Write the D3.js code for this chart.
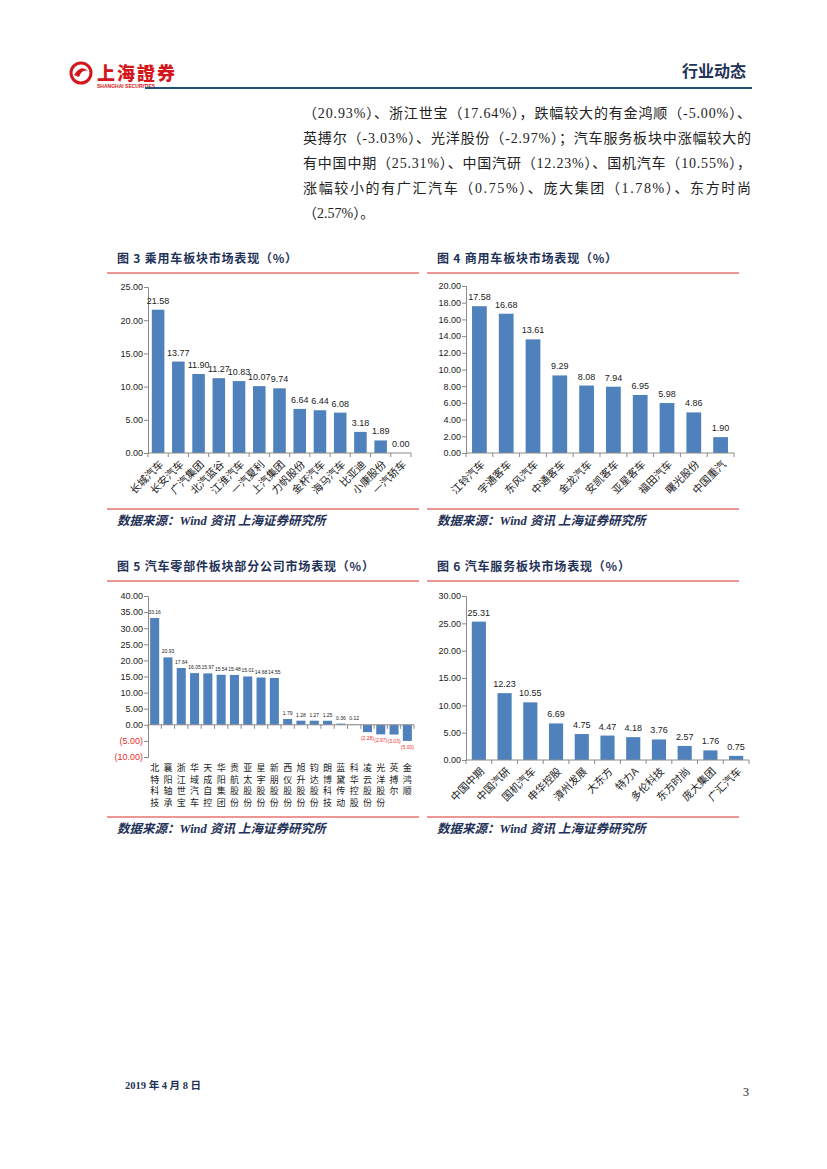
<!DOCTYPE html>
<html>
<head>
<meta charset="utf-8">
<script src="https://cdnjs.cloudflare.com/ajax/libs/d3/7.8.5/d3.min.js"></script>
<style>
  body { margin: 0; background: #fff; }
  svg { display: block; }
</style>
</head>
<body>
<div id="page"></div>
<script>
// ---- data ----
const paragraphLines = [
    "（20.93%）、浙江世宝（17.64%），跌幅较大的有金鸿顺（-5.00%）、",
    "英搏尔（-3.03%）、光洋股份（-2.97%）；汽车服务板块中涨幅较大的",
    "有中国中期（25.31%）、中国汽研（12.23%）、国机汽车（10.55%），",
    "涨幅较小的有广汇汽车（0.75%）、庞大集团（1.78%）、东方时尚",
    "（2.57%）。"
];

const passengerNames = ["长城汽车", "长安汽车", "广汽集团", "北汽蓝谷", "江淮汽车", "一汽夏利", "上汽集团",
    "力帆股份", "金杯汽车", "海马汽车", "比亚迪", "小康股份", "一汽轿车"];
const passengerValues = [21.58, 13.77, 11.90, 11.27, 10.83, 10.07, 9.74, 6.64, 6.44, 6.08, 3.18, 1.89, 0.00];
const passengerTicks = [0, 5, 10, 15, 20, 25];

const commercialNames = ["江铃汽车", "宇通客车", "东风汽车", "中通客车", "金龙汽车", "安凯客车", "亚星客车",
    "福田汽车", "曙光股份", "中国重汽"];
const commercialValues = [17.58, 16.68, 13.61, 9.29, 8.08, 7.94, 6.95, 5.98, 4.86, 1.90];
const commercialTicks = [0, 2, 4, 6, 8, 10, 12, 14, 16, 18, 20];

const partsNames = ["北特科技", "襄阳轴承", "浙江世宝", "华域汽车", "天成自控", "华阳集团", "贵航股份",
    "亚太股份", "星宇股份", "新朋股份", "西仪股份", "旭升股份", "钧达股份", "朗博科技", "蓝黛传动",
    "科华控股", "凌云股份", "光洋股份", "英搏尔", "金鸿顺"];
const partsValues = [33.16, 20.93, 17.64, 16.05, 15.97, 15.54, 15.48, 15.01, 14.68, 14.55,
    1.79, 1.28, 1.27, 1.25, 0.36, 0.12, -2.28, -2.97, -3.03, -5.00];
const partsTicks = [-10, -5, 0, 5, 10, 15, 20, 25, 30, 35, 40];

const serviceNames = ["中国中期", "中国汽研", "国机汽车", "申华控股", "漳州发展", "大东方", "特力A",
    "多伦科技", "东方时尚", "庞大集团", "广汇汽车"];
const serviceValues = [25.31, 12.23, 10.55, 6.69, 4.75, 4.47, 4.18, 3.76, 2.57, 1.76, 0.75];
const serviceTicks = [0, 5, 10, 15, 20, 25, 30];

const titles = ["图 3 乘用车板块市场表现（%）", "图 4 商用车板块市场表现（%）",
    "图 5 汽车零部件板块部分公司市场表现（%）", "图 6 汽车服务板块市场表现（%）"];
const sourceText = "数据来源：Wind 资讯 上海证券研究所";

// ---- page ----
const W = 827, H = 1169;
const navy = "#1f3257";
const red = "#d9302c";
const barColor = "#4f81bd";
const axisColor = "#8a8a8a";
const numFont = "'Liberation Sans Narrow', 'Liberation Sans', Arial, sans-serif";
const cjk = "'Noto Sans CJK SC', sans-serif";

const svg = d3.select("#page").append("svg")
    .attr("width", W)
    .attr("height", H);

// header: logo
const logo = svg.append("g").attr("transform", "translate(70, 61)");
logo.append("circle").attr("cx", 11).attr("cy", 12).attr("r", 10)
    .attr("fill", "none").attr("stroke", "#d4161c").attr("stroke-width", 3);
logo.append("path").attr("d", "M4,14 Q11,3 18,10 Q12,8 9,16 Z").attr("fill", "#d4161c");
logo.append("text").attr("x", 27).attr("y", 19)
    .attr("font-family", cjk).attr("font-weight", "900").attr("font-size", 18)
    .attr("fill", "#d4161c").attr("letter-spacing", 2).text("上海證券");
logo.append("text").attr("x", 27).attr("y", 27)
    .attr("font-family", "'Liberation Sans', Arial").attr("font-weight", "bold").attr("font-size", 5)
    .attr("fill", "#d4161c").text("SHANGHAI SECURITIES");

svg.append("text").attr("x", 746).attr("y", 77).attr("text-anchor", "end")
    .attr("font-family", cjk).attr("font-weight", "bold").attr("font-size", 16)
    .attr("fill", navy).text("行业动态");

svg.append("line").attr("x1", 145).attr("x2", 752).attr("y1", 88).attr("y2", 88)
    .attr("stroke", "#1f4e79").attr("stroke-width", 2);

// paragraph
paragraphLines.forEach((line, i) => {
    const t = svg.append("text")
        .attr("x", 303).attr("y", 118 + i * 25)
        .attr("font-family", "'Liberation Serif', 'Noto Sans CJK SC', serif")
        .attr("font-size", 14).attr("fill", "#222")
        .text(line);
    if (i < paragraphLines.length - 1) {
        t.attr("textLength", 448).attr("lengthAdjust", "spacing");
    }
});

// panel frame: title, red rules, source
const drawFrame = (x, titleY, sourceY, title) => {
    svg.append("text").attr("x", x + 10).attr("y", titleY)
        .attr("font-family", cjk).attr("font-weight", "bold").attr("font-size", 12)
        .attr("letter-spacing", 0.8).attr("fill", navy).text(title);
    svg.append("line").attr("x1", x).attr("x2", x + 312).attr("y1", titleY + 10).attr("y2", titleY + 10)
        .attr("stroke", red).attr("stroke-width", 1.2);
    svg.append("line").attr("x1", x).attr("x2", x + 312).attr("y1", sourceY - 12).attr("y2", sourceY - 12)
        .attr("stroke", red).attr("stroke-width", 1.2);
    svg.append("text").attr("x", x + 10).attr("y", sourceY + 4)
        .attr("font-family", "'Liberation Serif', 'Noto Sans CJK SC', serif")
        .attr("font-weight", "bold").attr("font-style", "italic").attr("font-size", 12.5)
        .attr("fill", navy).text(sourceText);
};

const negFmt = v => v < 0 ? `(${Math.abs(v).toFixed(2)})` : v.toFixed(2);

const drawBars = (opt) => {
    const g = svg.append("g");
    const x = d3.scaleBand()
        .domain(opt.names)
        .range([opt.x0, opt.x1])
        .paddingInner(opt.pad)
        .paddingOuter(opt.pad / 2);
    const y = d3.scaleLinear()
        .domain([opt.ticks[0], opt.ticks[opt.ticks.length - 1]])
        .range([opt.yBottom, opt.yTop]);
    const y0 = y(0);

    // y axis
    const yAxis = d3.axisLeft(y).tickValues(opt.ticks).tickSize(4).tickFormat(negFmt);
    const gy = g.append("g").attr("transform", `translate(${opt.x0},0)`).call(yAxis);
    gy.select(".domain").attr("stroke", axisColor);
    gy.selectAll(".tick line").attr("stroke", axisColor);
    gy.selectAll(".tick text")
        .attr("font-family", numFont).attr("font-size", opt.tickSize)
        .attr("fill", d => d < 0 ? "#e8302c" : "#222")
        .attr("x", -5);

    // bars
    g.selectAll("rect.bar").data(opt.values).enter().append("rect")
        .attr("class", "bar")
        .attr("x", (d, i) => x(opt.names[i]))
        .attr("width", x.bandwidth())
        .attr("y", d => d >= 0 ? y(d) : y0)
        .attr("height", d => Math.abs(y(d) - y0))
        .attr("fill", barColor);

    // x axis line and category ticks
    g.append("line").attr("x1", opt.x0).attr("x2", opt.x1).attr("y1", y0).attr("y2", y0)
        .attr("stroke", axisColor);
    const step = x.step();
    const bounds = d3.range(opt.names.length + 1).map(i => opt.x0 + i * step);
    g.selectAll("line.xt").data(bounds).enter().append("line")
        .attr("x1", d => d).attr("x2", d => d)
        .attr("y1", y0).attr("y2", y0 + 4)
        .attr("stroke", axisColor);

    // value labels
    g.selectAll("text.val").data(opt.values).enter().append("text")
        .attr("x", (d, i) => x(opt.names[i]) + x.bandwidth() / 2)
        .attr("y", d => d >= 0 ? y(d) - opt.valOffset : y(d) + opt.valOffset + opt.valSize * 0.8)
        .attr("text-anchor", "middle")
        .attr("font-family", numFont).attr("font-size", opt.valSize)
        .attr("fill", d => d < 0 ? "#e8302c" : "#222")
        .text(d => negFmt(d));

    // category labels
    if (opt.vertical) {
        opt.names.forEach((name, i) => {
            const cx = x(name) + x.bandwidth() / 2;
            Array.from(name).forEach((ch, k) => {
                g.append("text")
                    .attr("x", cx)
                    .attr("y", opt.catY + k * opt.catStep)
                    .attr("font-family", cjk).attr("font-size", opt.catSize)
                    .attr("fill", "#222").attr("text-anchor", "middle")
                    .text(ch);
            });
        });
    } else {
        g.selectAll("text.cat").data(opt.names).enter().append("text")
            .attr("transform", d => `translate(${x(d) + x.bandwidth() / 2 + 6},${y0 + 12}) rotate(-45)`)
            .attr("text-anchor", "end")
            .attr("font-family", cjk).attr("font-size", opt.catSize)
            .attr("fill", "#222")
            .text(d => d);
    }
};

// figure 3
drawFrame(107, 263, 521, titles[0]);
drawBars({
    names: passengerNames, values: passengerValues, ticks: passengerTicks,
    x0: 148, x1: 411, yTop: 287, yBottom: 453, pad: 0.38,
    tickSize: 9, valSize: 9, valOffset: 6, catSize: 10.5
});

// figure 4
drawFrame(427, 263, 521, titles[1]);
drawBars({
    names: commercialNames, values: commercialValues, ticks: commercialTicks,
    x0: 466, x1: 734, yTop: 286, yBottom: 453, pad: 0.45,
    tickSize: 9, valSize: 9, valOffset: 6, catSize: 10.5
});

// figure 5
drawFrame(107, 571, 829, titles[2]);
drawBars({
    names: partsNames, values: partsValues, ticks: partsTicks,
    x0: 148, x1: 414, yTop: 596, yBottom: 757, pad: 0.32,
    tickSize: 9, valSize: 5, valOffset: 4, catSize: 9,
    vertical: true, catY: 771, catStep: 11.5
});

// figure 6
drawFrame(427, 571, 829, titles[3]);
drawBars({
    names: serviceNames, values: serviceValues, ticks: serviceTicks,
    x0: 466, x1: 749, yTop: 596, yBottom: 760, pad: 0.45,
    tickSize: 9, valSize: 9, valOffset: 6, catSize: 10.5
});

// footer
svg.append("text").attr("x", 125).attr("y", 1089)
    .attr("font-family", "'Liberation Serif', 'Noto Sans CJK SC', serif")
    .attr("font-weight", "bold").attr("font-size", 10.5).attr("fill", navy)
    .text("2019 年 4 月 8 日");
svg.append("text").attr("x", 749).attr("y", 1096).attr("text-anchor", "end")
    .attr("font-family", "'Liberation Serif', serif").attr("font-size", 12).attr("fill", "#222")
    .text("3");
</script>
</body>
</html>
